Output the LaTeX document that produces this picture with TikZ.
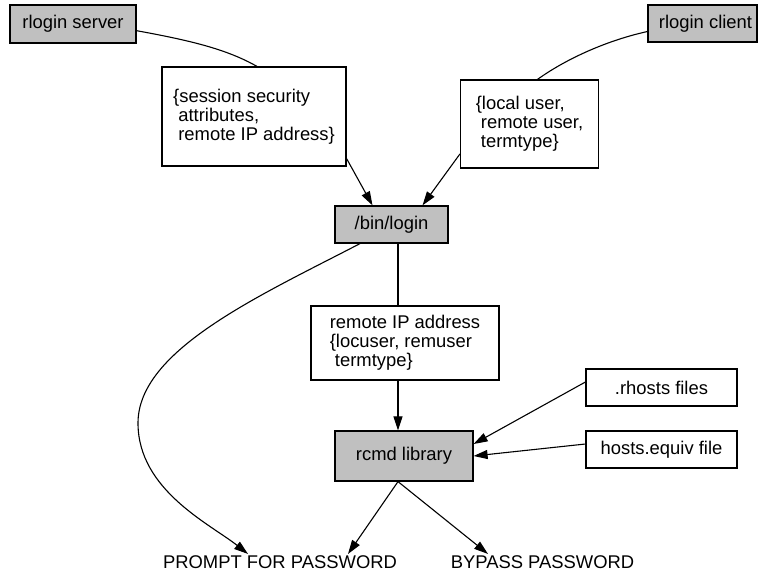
\documentclass[tikz,border=0pt]{standalone}
\usepackage{fontspec}
\setmainfont{Liberation Sans}
\usetikzlibrary{arrows.meta}
\definecolor{RLInk}{HTML}{000000}
\definecolor{RLGray}{HTML}{C0C0C0}
\newcommand{\rlind}{\hspace*{0.28em}}

\begin{document}
\begin{tikzpicture}[x=1pt,y=-1pt,
    font=\fontsize{18.4}{19}\selectfont,
    procbox/.style={draw=RLInk,fill=RLGray,line width=1.2pt,inner sep=0pt},
    databox/.style={draw=RLInk,fill=white,line width=1.2pt,inner sep=0pt,align=left},
    outlabel/.style={anchor=base,inner sep=1pt},
    link/.style={draw=RLInk,line width=1.1pt},
    arr/.style={link,-{Triangle[length=14pt,width=9pt]}}]
    \useasboundingbox (0,0) rectangle (765,579);
    % programs
    \node[procbox,minimum width=126pt,minimum height=38pt] (server) at (73,24) {rlogin server};
    \node[procbox,minimum width=109pt,minimum height=37pt] (client) at (702.5,23.5) {\hspace*{6pt}rlogin client};
    \node[procbox,minimum width=113pt,minimum height=37pt] (login) at (391.5,224.5) {/bin/login};
    \node[procbox,minimum width=138pt,minimum height=50pt] (rcmd) at (404,456) {rcmd library};
    % data passed along
    \node[databox,minimum width=184pt,minimum height=99pt] (session) at (254,116.5) {\{session security\\\rlind attributes,\\\rlind remote IP address\}};
    \node[databox,minimum width=138pt,minimum height=88pt] (locals) at (529.5,124) {\{local user,\\\rlind remote user,\\\rlind termtype\}};
    \node[databox,minimum width=188pt,minimum height=74pt] (remip) at (405,343) {remote IP address\\\{locuser, remuser\\\rlind termtype\}};
    \foreach \n/\y/\t in {rhosts/387.5/.rhosts files,hequiv/449.5/hosts.equiv file} {
      \node[databox,minimum width=151pt,minimum height=37pt,align=center] (\n) at (661.5,\y) {\t};
    }
    % outcomes
    \node[outlabel] (prompt) at (280,568) {PROMPT FOR PASSWORD};
    \node[outlabel] (bypass) at (542.5,568) {BYPASS PASSWORD};
    \coordinate (bend) at (138,423);

    \draw[link] (server.-6) .. controls +(55,10) and +(-30,-17) .. ([xshift=3pt]session.north);
    \draw[link] ([yshift=-8pt]client.west) .. controls +(-45,10) and +(25,-18) .. ([xshift=8pt]locals.north);
    \draw[arr] ([yshift=8pt]session.south east) -- ([xshift=-19pt]login.north);
    \draw[arr] ([yshift=-30pt]locals.west) -- ([xshift=31pt]login.north);
    \draw[link] ([xshift=6.5pt]login.south) -- ([xshift=6.5pt]login.south |- remip.north);
    \draw[arr] ([xshift=-7pt]remip.south) -- ([xshift=-7pt]remip.south |- rcmd.north);
    \draw[arr] ([xshift=-31.5pt]login.south) .. controls +(-100,52) and +(0,-73) .. (bend)
      .. controls +(0,67) and +(-38,-30) .. ([xshift=-32pt]prompt.north);
    \draw[arr] ([yshift=5.5pt]rhosts.west) -- ([yshift=12pt]rcmd.east);
    \draw[arr] ([yshift=5.5pt]hequiv.west) -- (rcmd.east);
    \draw[arr] ([xshift=-6pt]rcmd.south) -- ([xshift=68pt]prompt.north);
    \draw[arr] ([xshift=-6pt]rcmd.south) -- ([xshift=-54.5pt]bypass.north);
\end{tikzpicture}
\end{document}
